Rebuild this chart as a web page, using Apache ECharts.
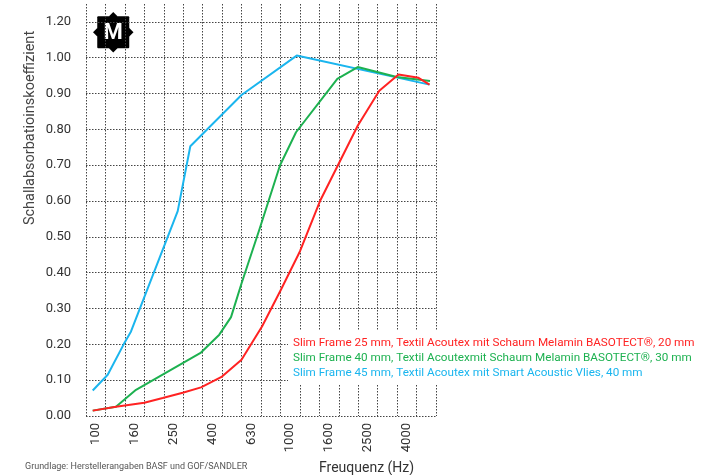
<!DOCTYPE html>
<html>
<head>
<meta charset="utf-8">
<script src="https://cdn.jsdelivr.net/npm/echarts@6/dist/echarts.min.js"></script>
<style>html,body{margin:0;padding:0;background:#fff}#c{width:704px;height:475px}</style>
</head>
<body>
<div id="c"></div>
<script>
// Third-octave band categories (x axis), every other one labelled
const bands = ['100','125','160','200','250','315','400','500','630','800','1000','1250','1600','2000','2500','3150','4000','5000'];
// Y tick values and their printed labels (top tick is printed as 1.20 in the original)
const yTicks = [0, 0.1, 0.2, 0.3, 0.4, 0.5, 0.6, 0.7, 0.8, 0.9, 1.0, 1.1];
const yTickLabels = ['0.00','0.10','0.20','0.30','0.40','0.50','0.60','0.70','0.80','0.90','1.00','1.20'];

const seriesNames = [
  'Slim Frame 25 mm, Textil Acoutex mit Schaum Melamin BASOTECT®, 20 mm',
  'Slim Frame 40 mm, Textil Acoutexmit Schaum Melamin BASOTECT®, 30 mm',
  'Slim Frame 45 mm, Textil Acoutex mit Smart Acoustic Vlies, 40 mm'
];
// [frequency Hz, absorption coefficient]
const red25 = [[96.5,0.015],[127.2,0.026],[178.1,0.037],[221.6,0.050],[281.2,0.065],[349.4,0.080],[448.5,0.110],[565.4,0.157],[721.4,0.250],[904.3,0.353],[1133,0.460],[1437,0.600],[2249,0.810],[2907,0.908],[3653,0.953],[4632,0.944],[5280,0.925]];
const green40 = [[96.5,0.015],[127.2,0.026],[161.4,0.073],[349.4,0.177],[434.2,0.227],[499.1,0.276],[565.4,0.370],[698.6,0.520],[893.6,0.700],[1080.5,0.792],[1765,0.941],[2249,0.974],[3576,0.946],[5311,0.935]];
const blue45 = [[96.5,0.071],[115.3,0.115],[139.4,0.200],[152.1,0.236],[264.9,0.572],[307.7,0.753],[565.4,0.896],[1089.5,1.006],[5280,0.925]];

const yTitle = 'Schallabsorbatioinskoeffizient';
const xTitle = 'Freuquenz (Hz)';
const footnote = 'Grundlage: Herstellerangaben BASF und GOF/SANDLER';

const colors = ['#ff2222', '#1db150', '#1ab5ee'];
const fMin = 100 * Math.pow(2, -1/6);
const fMax = fMin * 64;
const FONT = 'Roboto';
const dotted = { color: '#444', width: 1, type: [1.5, 1.5] };

const chart = echarts.init(document.getElementById('c'), null, { renderer: 'canvas' });
chart.setOption({
  animation: false,
  backgroundColor: '#fff',
  textStyle: { fontFamily: FONT },
  grid: { left: 86, right: 268, top: 4, bottom: 59, containLabel: false },
  xAxis: [{
    type: 'category',
    data: bands,
    boundaryGap: true,
    axisLine: { show: false },
    axisTick: { show: false },
    axisLabel: { interval: 1, rotate: 90, fontSize: 13, color: '#333', margin: 7, fontFamily: FONT },
    splitLine: { show: true, interval: 0, lineStyle: dotted }
  }, {
    type: 'log',
    logBase: 2,
    min: fMin,
    max: fMax,
    show: false,
    position: 'top'
  }],
  yAxis: {
    type: 'value',
    min: 0,
    max: 1.15,
    interval: 0.1,
    axisLine: { show: false },
    axisTick: { show: false, customValues: yTicks },
    axisLabel: {
      customValues: yTicks,
      fontSize: 13, color: '#333', margin: 15, fontFamily: FONT,
      formatter: v => yTickLabels[Math.round(v * 10)] || ''
    },
    splitLine: { show: true, lineStyle: dotted }
  },
  legend: {
    orient: 'vertical',
    left: 288,
    top: 331,
    padding: [6, 12, 6, 0],
    backgroundColor: '#fff',
    itemWidth: 0,
    itemHeight: 12,
    itemGap: 3,
    selectedMode: false,
    data: seriesNames.map((n, i) => ({ name: n, icon: 'none', textStyle: { color: colors[i], fontSize: 11.7, fontFamily: FONT } }))
  },
  series: [red25, green40, blue45].map((d, i) => ({
    name: seriesNames[i],
    type: 'line',
    xAxisIndex: 1,
    data: d,
    symbol: 'none',
    color: colors[i],
    lineStyle: { width: 2, color: colors[i] },
    z: 3 + (2 - i)
  })),
  graphic: [
    { type: 'text', x: 30, y: 128, rotation: Math.PI / 2, style: { text: yTitle, font: '14.5px ' + FONT, fill: '#444', align: 'center', verticalAlign: 'middle' } },
    { type: 'text', left: 319, top: 461, style: { text: xTitle, font: '14px ' + FONT, fill: '#333' } },
    { type: 'text', left: 25, top: 462, style: { text: footnote, font: '9px ' + FONT, fill: '#555' } },
    { type: 'group', left: 93, top: 12, children: [
      { type: 'rect', shape: { x: 2, y: 2, width: 32, height: 32, r: 1 }, style: { fill: '#000' } },
      { type: 'rect', shape: { x: -3, y: -3, width: 6, height: 6 }, x: 18, y: 2, rotation: Math.PI / 4, style: { fill: '#000' } },
      { type: 'rect', shape: { x: -3, y: -3, width: 6, height: 6 }, x: 18, y: 34, rotation: Math.PI / 4, style: { fill: '#000' } },
      { type: 'rect', shape: { x: -3, y: -3, width: 6, height: 6 }, x: 2, y: 18, rotation: Math.PI / 4, style: { fill: '#000' } },
      { type: 'rect', shape: { x: -3, y: -3, width: 6, height: 6 }, x: 34, y: 18, rotation: Math.PI / 4, style: { fill: '#000' } },
      { type: 'text', x: 18, y: 19, style: { text: 'M', font: 'bold 22px ' + FONT, fill: '#fff', align: 'center', verticalAlign: 'middle' } }
    ] }
  ]
});
</script>
</body>
</html>
